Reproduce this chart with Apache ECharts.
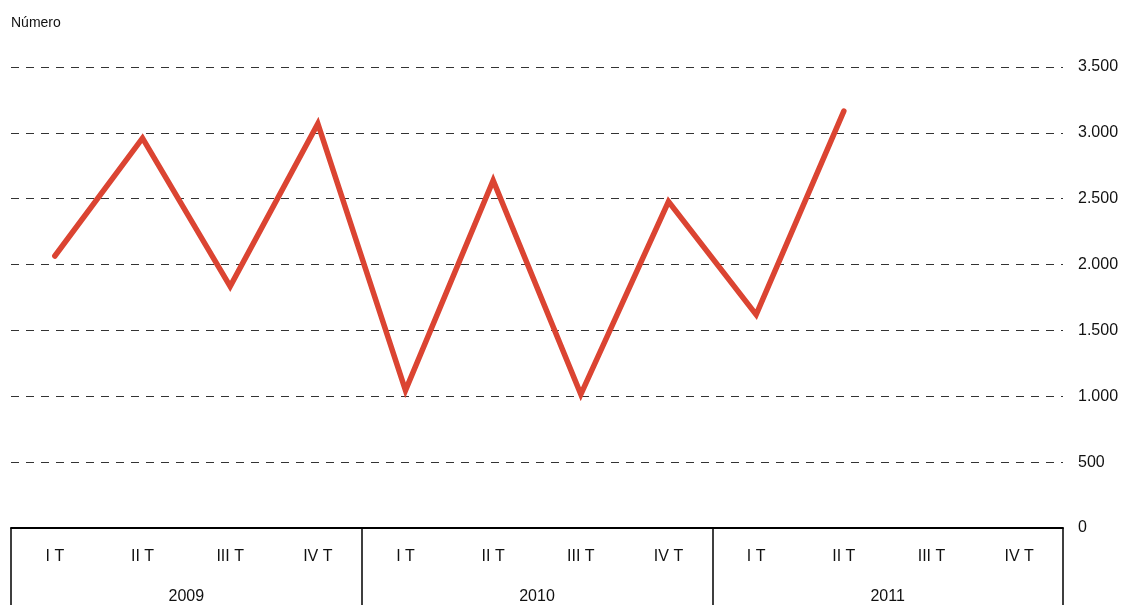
<!DOCTYPE html>
<html>
<head>
<meta charset="utf-8">
<script src="https://cdn.jsdelivr.net/npm/echarts@6/dist/echarts.min.js"></script>
<style>
html,body{margin:0;padding:0;background:#fff;}
#chart{width:1131px;height:605px;}
</style>
</head>
<body>
<div id="chart"></div>
<script>
const quarters = ['I T','II T','III T','IV T','I T','II T','III T','IV T','I T','II T','III T','IV T'];
const years = ['2009','2010','2011'];
const values = [2065, 2960, 1835, 3070, 1045, 2638, 1015, 2478, 1620, 3165, null, null];
const yTicks = [0, 500, 1000, 1500, 2000, 2500, 3000, 3500];

const font = '"Liberation Sans", Arial, sans-serif';
const chart = echarts.init(document.getElementById('chart'), null, {renderer: 'canvas'});
chart.setOption({
  animation: false,
  title: {
    text: 'Número', left: 6, top: 11,
    textStyle: {fontFamily: font, fontSize: 14, fontWeight: 'normal', color: '#111'}
  },
  grid: {left: 11, right: 68, top: 67, bottom: 74, containLabel: false},
  xAxis: [
    {
      type: 'category', data: quarters, position: 'bottom', boundaryGap: true,
      axisLine: {show: false}, axisTick: {show: false},
      axisLabel: {fontFamily: font, fontSize: 16, color: '#111', margin: 21, interval: 0}
    },
    {
      type: 'category', data: years, position: 'bottom', boundaryGap: true,
      axisLine: {show: true, lineStyle: {color: '#000', width: 2}},
      axisTick: {show: true, length: 90, lineStyle: {color: '#000', width: 1.5}},
      axisLabel: {fontFamily: font, fontSize: 16, color: '#111', margin: 61, interval: 0}
    }
  ],
  yAxis: {
    type: 'value', position: 'right', min: 0, max: 3500, interval: 500,
    axisLine: {show: false}, axisTick: {show: false},
    axisLabel: {
      fontFamily: font, fontSize: 16, color: '#111', margin: 15,
      formatter: v => yTicks.includes(v) ? String(v).replace(/\B(?=(\d{3})+(?!\d))/g, '.') : ''
    },
    splitLine: {show: true, lineStyle: {color: '#333', width: 1, type: [8, 7]}}
  },
  series: [{
    type: 'line', xAxisIndex: 0, data: values, showSymbol: false, symbol: 'none',
    connectNulls: false,
    lineStyle: {color: '#db4432', width: 5.5, cap: 'round', join: 'miter'}
  }]
});
</script>
</body>
</html>
